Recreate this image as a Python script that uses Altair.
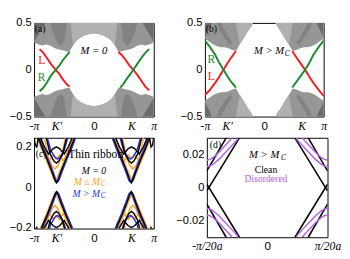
import altair as alt
import pandas as pd

SERIF = "Liberation Serif"
SANS = "Liberation Sans"

# ---------------- ticks ----------------
K_TICKS = [-3.1416, -1.97, 0.0, 1.97, 3.1416]
K_LABELS = ["-π", "K'", "0", "K", "π"]
D_TICKS = [-1.0, 0.0, 1.0]
D_LABELS = ["-π/20a", "0", "π/20a"]
AB_YTICKS = [-0.5, 0.0, 0.5]
C_YTICKS = [-0.2, 0.0, 0.2]
D_YTICKS = [-0.02, 0.0, 0.02]

# ---------------- panel (a): bulk boundary (upper half, lower half mirrored) ----------------
A_K = [-3.14, -2.9, -2.7, -2.5, -2.3, -2.1, -1.9, -1.7, -1.5, -1.3, -1.1, -0.9, -0.7, -0.5, -0.3,
       0.0, 0.3, 0.5, 0.7, 0.9, 1.1, 1.3, 1.5, 1.7, 1.9, 2.1, 2.3, 2.5, 2.7, 2.9, 3.14]
A_EDGE = [0.29, 0.27, 0.26, 0.27, 0.26, 0.235, 0.22, 0.21, 0.20, 0.19, 0.26, 0.315, 0.345, 0.365, 0.38,
          0.39, 0.38, 0.365, 0.345, 0.315, 0.26, 0.19, 0.20, 0.21, 0.22, 0.235, 0.26, 0.27, 0.26, 0.27, 0.29]
A_LIGHT_K = [-1.25, -1.1, -0.9, -0.7, -0.5, -0.3, 0.0, 0.3, 0.5, 0.7, 0.9, 1.1, 1.25]
A_LIGHT_LO = [0.55, 0.26, 0.315, 0.345, 0.365, 0.38, 0.39, 0.38, 0.365, 0.345, 0.315, 0.26, 0.55]
A_DARK_K = [-3.14, -3.0, -2.8, -2.6, -2.45]
A_DARK_LO = [0.30, 0.35, 0.42, 0.48, 0.55]
A_MID_K = [-2.35, -2.15, -1.95, -1.75, -1.55, -1.4]
A_MID_LO = [0.55, 0.40, 0.30, 0.25, 0.30, 0.55]

# edge states (a)
A_L1_K = [-2.85, -2.65, -2.45, -2.25, -2.0, -1.8, -1.6, -1.4, -1.28]
A_L1_E = [0.22, 0.18, 0.12, 0.06, 0.0, -0.05, -0.11, -0.16, -0.18]
A_R1_K = [-2.85, -2.65, -2.45, -2.25, -2.0, -1.8, -1.6, -1.4, -1.28]
A_R1_E = [-0.23, -0.19, -0.13, -0.06, 0.0, 0.05, 0.11, 0.16, 0.19]
A_L2_K = [1.28, 1.45, 1.65, 1.85, 2.07, 2.3, 2.5, 2.7, 2.9]
A_L2_E = [0.19, 0.16, 0.11, 0.05, 0.0, -0.06, -0.12, -0.18, -0.22]
A_R2_K = [1.38, 1.55, 1.75, 1.9, 2.07, 2.3, 2.5, 2.7, 2.9]
A_R2_E = [-0.19, -0.15, -0.09, -0.05, 0.0, 0.07, 0.13, 0.18, 0.22]

# ---------------- panel (b) ----------------
B_EDGE = [0.33, 0.30, 0.27, 0.25, 0.24, 0.24, 0.23, 0.21, 0.20, 0.27, 0.33, 0.40, 0.46, 0.53, 0.6,
          0.6, 0.6, 0.53, 0.46, 0.40, 0.33, 0.27, 0.20, 0.21, 0.23, 0.24, 0.24, 0.25, 0.27, 0.30, 0.33]
B_DARK_K = [-3.14, -3.0, -2.85, -2.7]
B_DARK_LO = [0.34, 0.40, 0.46, 0.55]
B_STRIPE_K = [-2.6, -2.4, -2.2, -2.0, -1.8, -1.7]
B_STRIPE_LO = [0.55, 0.43, 0.37, 0.31, 0.26, 0.30]
B_STRIPE_HI = [0.55, 0.55, 0.46, 0.39, 0.32, 0.30]
B_LIGHT_K = [-1.55, -1.3, -1.1, -0.9, -0.7, -0.5]
B_LIGHT_LO = [0.55, 0.27, 0.33, 0.40, 0.46, 0.53]

B_L1_K = [-3.14, -2.9, -2.6, -2.4, -2.16, -1.95, -1.75, -1.5]
B_L1_E = [-0.27, -0.22, -0.14, -0.08, 0.0, 0.07, 0.13, 0.20]
B_R1_E = [0.31, 0.25, 0.16, 0.08, 0.0, -0.07, -0.13, -0.19]
B_L2_K = [1.48, 1.7, 1.95, 2.16, 2.4, 2.6, 2.9, 3.14]
B_L2_E = [0.20, 0.13, 0.06, 0.0, -0.08, -0.14, -0.22, -0.28]
B_R2_E = [-0.19, -0.13, -0.06, 0.0, 0.08, 0.16, 0.25, 0.31]

# ---------------- panel (c): thin-ribbon subbands near K' (conduction) ----------------
C_BLACK = [
    ([-2.92, -2.7, -2.45, -2.2, -2.05, -1.97, -1.89, -1.74, -1.49, -1.24, -1.02],
     [0.245, 0.19, 0.135, 0.075, 0.035, 0.022, 0.035, 0.075, 0.135, 0.19, 0.245]),
    ([-2.5, -2.3, -2.1, -1.97, -1.84, -1.64, -1.44],
     [0.245, 0.165, 0.13, 0.12, 0.13, 0.165, 0.245]),
    ([-2.8, -2.6, -2.38, -2.15, -1.97, -1.79, -1.56, -1.34, -1.14],
     [0.245, 0.2, 0.165, 0.19, 0.2, 0.19, 0.165, 0.2, 0.245]),
    ([-3.14, -3.08, -3.0, -2.92], [0.245, 0.21, 0.2, 0.245]),
]
C_ORANGE = [
    ([-2.98, -2.75, -2.5, -2.25, -2.1, -2.03, -1.96, -1.8, -1.55, -1.3, -1.08],
     [0.245, 0.19, 0.135, 0.075, 0.04, 0.03, 0.04, 0.075, 0.135, 0.19, 0.245]),
    ([-2.6, -2.4, -2.2, -2.05, -1.9, -1.7, -1.5],
     [0.245, 0.15, 0.105, 0.09, 0.105, 0.15, 0.245]),
    ([-2.75, -2.55, -2.35, -2.15, -2.0, -1.8, -1.6, -1.4, -1.2],
     [0.23, 0.17, 0.13, 0.16, 0.14, 0.16, 0.13, 0.17, 0.23]),
]
C_BLUE = [
    ([-2.86, -2.64, -2.39, -2.14, -1.99, -1.91, -1.83, -1.68, -1.43, -1.18, -0.96],
     [0.245, 0.19, 0.135, 0.075, 0.035, 0.025, 0.035, 0.075, 0.135, 0.19, 0.245]),
    ([-2.45, -2.25, -2.05, -1.91, -1.77, -1.57, -1.37],
     [0.245, 0.18, 0.15, 0.14, 0.15, 0.18, 0.245]),
]

# ---------------- panel (d): zoom near zero energy (upper-left quadrant) ----------------
D_BLACK = [([-1.0, -0.68], [0.010, 0.030]), ([-1.0, -0.46], [-0.002, 0.030])]
D_PURPLE = [([-1.0, -0.95, -0.9, -0.85, -0.8, -0.7, -0.6, -0.56],
             [0.0165, 0.017, 0.018, 0.0195, 0.0213, 0.0252, 0.0291, 0.031]),
            ([-1.0, -0.95, -0.9, -0.85, -0.8, -0.7, -0.6, -0.5, -0.48],
             [0.0125, 0.013, 0.014, 0.0155, 0.017, 0.0209, 0.0248, 0.0287, 0.031])]

GRAY = "#969696"
LIGHT = "#b0b0b0"
DARK = "#6c6c6c"
MID = "#828282"
RED = "#f01e1e"
GREEN = "#1d8a2e"
ORANGE = "#ffa020"
BLUE = "#2233e8"
PURPLE = "#b463e6"


def label_expr(ticks, labels):
    expr = '""'
    for t, l in reversed(list(zip(ticks, labels))):
        expr = f'abs(datum.value - ({t})) < 0.001 ? "{l}" : ' + expr
    return expr


def make_axes(xt, xl, yt, yfmt, xdom, ydom):
    xs = alt.Scale(domain=xdom, nice=False, zero=False)
    ys = alt.Scale(domain=ydom, nice=False, zero=False)
    xa = alt.Axis(values=xt, labelExpr=label_expr(xt, xl), title=None, ticks=False, grid=False,
                  domain=False, labelFlush=False, labelOverlap=False, labelBound=False,
                  labelFont={"condition": {"test": "datum.value == 0", "value": SANS}, "value": SERIF},
                  labelFontStyle={"condition": {"test": "datum.value == 0", "value": "normal"}, "value": "italic"},
                  labelFontSize=12, labelPadding=4, labelColor="black")
    ya = alt.Axis(values=yt, format=yfmt, title=None, ticks=False, grid=False, domain=False,
                  labelFlush=False, labelOverlap=False, labelFont=SANS, labelFontSize=11.5,
                  labelPadding=3, labelColor="black")
    return dict(xs=xs, xa=xa, ys=ys, ya=ya)


def area_layer(rows, color, P):
    return alt.Chart(pd.DataFrame(rows)).mark_area(color=color, clip=True, opacity=1).encode(
        x=alt.X("k:Q", scale=P["xs"], axis=P["xa"]),
        y=alt.Y("lo:Q", scale=P["ys"], axis=P["ya"]),
        y2="hi:Q", detail="g:N")


def line_layer(rows, P, width=2.0):
    return alt.Chart(pd.DataFrame(rows)).mark_line(clip=True, strokeWidth=width).encode(
        x=alt.X("k:Q", scale=P["xs"], axis=P["xa"]),
        y=alt.Y("e:Q", scale=P["ys"], axis=P["ya"]),
        color=alt.Color("c:N", scale=None), detail="id:N", order="i:Q")


def text_layer(rows, P, **kw):
    return alt.Chart(pd.DataFrame(rows)).mark_text(**kw).encode(
        x=alt.X("k:Q", scale=P["xs"], axis=P["xa"]),
        y=alt.Y("e:Q", scale=P["ys"], axis=P["ya"]),
        text="t:N", color=alt.Color("c:N", scale=None))


def sym_area(ks, los, his, tag, mirror_k=False):
    """upper band (lo..hi) plus its energy mirror; optional k mirror"""
    rows = []
    signs = (1, -1) if mirror_k else (1,)
    for sk in signs:
        for k, lo, hi in zip(ks, los, his):
            rows.append({"k": sk * k, "lo": lo, "hi": hi, "g": f"{tag}u{sk}"})
            rows.append({"k": sk * k, "lo": -hi, "hi": -lo, "g": f"{tag}d{sk}"})
    return rows


def line_rows(ks, es, color, gid):
    return [{"k": k, "e": e, "c": color, "id": gid, "i": i} for i, (k, e) in enumerate(zip(ks, es))]


def band_rows(sets, color, tag):
    rows = []
    for n, (ks, es) in enumerate(sets):
        for sk in (1, -1):
            for se in (1, -1):
                rows += line_rows([sk * k for k in ks], [se * e for e in es], color, f"{tag}{n}{sk}{se}")
    return rows


def txt(k, e, t, c="black"):
    return [{"k": k, "e": e, "t": t, "c": c}]


# ============ panel (a) ============
PA = make_axes(K_TICKS, K_LABELS, AB_YTICKS, ".1~f", [-3.1416, 3.1416], [-0.5, 0.5])
top_a = [0.6] * len(A_K)
a_layers = [
    area_layer(sym_area(A_K, A_EDGE, top_a, "base"), GRAY, PA),
    area_layer(sym_area(A_MID_K, A_MID_LO, [0.6] * len(A_MID_K), "mid", True), MID, PA),
    area_layer(sym_area(A_LIGHT_K, A_LIGHT_LO, [0.6] * len(A_LIGHT_K), "lt"), LIGHT, PA),
    area_layer(sym_area(A_DARK_K, A_DARK_LO, [0.6] * len(A_DARK_K), "dk", True), DARK, PA),
    line_layer(line_rows(A_L1_K, A_L1_E, RED, "l1") + line_rows(A_R1_K, A_R1_E, GREEN, "r1")
               + line_rows(A_L2_K, A_L2_E, RED, "l2") + line_rows(A_R2_K, A_R2_E, GREEN, "r2"), PA),
    text_layer(txt(-3.1, 0.43, "(a)"), PA, font=SERIF, fontSize=10, align="left"),
    text_layer(txt(0.0, 0.2, "M = 0"), PA, font=SERIF, fontSize=11, fontStyle="italic"),
    text_layer(txt(-2.74, 0.10, "L", RED) + txt(-2.74, -0.075, "R", GREEN), PA,
               font=SERIF, fontSize=12),
]
pa = alt.layer(*a_layers).properties(width=124, height=97)

# ============ panel (b) ============
PB = make_axes(K_TICKS, K_LABELS, AB_YTICKS, ".1~f", [-3.1416, 3.1416], [-0.5, 0.5])
b_layers = [
    area_layer(sym_area(A_K, B_EDGE, top_a, "base"), GRAY, PB),
    area_layer(sym_area(B_LIGHT_K, B_LIGHT_LO, [0.6] * len(B_LIGHT_K), "lt", True), LIGHT, PB),
    area_layer(sym_area(B_STRIPE_K, B_STRIPE_LO, B_STRIPE_HI, "st", True), MID, PB),
    area_layer(sym_area(B_DARK_K, B_DARK_LO, [0.6] * len(B_DARK_K), "dk", True), DARK, PB),
    line_layer(line_rows(B_L1_K, B_L1_E, RED, "l1") + line_rows(B_L1_K, B_R1_E, GREEN, "r1")
               + line_rows(B_L2_K, B_L2_E, RED, "l2") + line_rows(B_L2_K, B_R2_E, GREEN, "r2"), PB),
    text_layer(txt(-3.1, 0.43, "(b)"), PB, font=SERIF, fontSize=10, align="left"),
    text_layer(txt(1.05, 0.2, "M > M"), PB, font=SERIF, fontSize=11, fontStyle="italic", align="right"),
    text_layer(txt(1.08, 0.17, "C"), PB, font=SERIF, fontSize=8, fontStyle="italic", align="left"),
    text_layer(txt(-2.8, 0.11, "R", GREEN) + txt(-2.8, -0.065, "L", RED), PB,
               font=SERIF, fontSize=12),
]
pb = alt.layer(*b_layers).properties(width=123, height=97)

# ============ panel (c) ============
PC = make_axes(K_TICKS, K_LABELS, C_YTICKS, ".1~f", [-3.1416, 3.1416], [-0.205, 0.245])
c_layers = [
    line_layer(band_rows(C_ORANGE, ORANGE, "o"), PC, 1.5),
    line_layer(band_rows(C_BLUE, BLUE, "b"), PC, 1.5),
    line_layer(band_rows(C_BLACK, "black", "k"), PC, 1.5),
    text_layer(txt(-3.05, 0.165, "(c)"), PC, font=SERIF, fontSize=10, align="left"),
    text_layer(txt(-1.35, 0.165, "Thin ribbon"), PC, font=SERIF, fontSize=12, align="left"),
    text_layer(txt(0.0, 0.082, "M = 0"), PC, font=SERIF, fontSize=10, fontStyle="italic"),
    text_layer(txt(0.32, 0.025, "M ≤ M", ORANGE) + txt(0.32, -0.033, "M > M", BLUE), PC,
               font=SERIF, fontSize=10, fontStyle="italic", align="right"),
    text_layer(txt(0.36, 0.014, "C", ORANGE) + txt(0.36, -0.044, "C", BLUE), PC,
               font=SERIF, fontSize=7.5, fontStyle="italic", align="left"),
]
pc = alt.layer(*c_layers).properties(width=124, height=94)

# ============ panel (d) ============
PD = make_axes(D_TICKS, D_LABELS, D_YTICKS, ".2~f", [-1.0, 1.0], [-0.03, 0.03])
d_rows = band_rows(D_BLACK, "black", "k")
p_rows = band_rows(D_PURPLE, PURPLE, "p")
d_layers = [
    line_layer(d_rows, PD, 1.6),
    line_layer(p_rows, PD, 1.5),
    text_layer(txt(-0.95, 0.0255, "(d)"), PD, font=SERIF, fontSize=10, align="left"),
    text_layer(txt(0.2, 0.0195, "M > M"), PD, font=SERIF, fontSize=11, fontStyle="italic", align="right"),
    text_layer(txt(0.23, 0.0175, "C"), PD, font=SERIF, fontSize=8, fontStyle="italic", align="left"),
    text_layer(txt(-0.02, 0.0108, "Clean"), PD, font=SERIF, fontSize=10),
    text_layer(txt(-0.02, 0.005, "Disordered", PURPLE), PD, font=SERIF, fontSize=10),
]
pd_ = alt.layer(*d_layers).properties(width=125, height=103)

top = alt.hconcat(pa, pb, spacing=22)
bottom = alt.hconcat(pc, pd_, spacing=18)
chart = alt.vconcat(top, bottom, spacing=5).properties(
    padding={"left": 0, "top": 4, "right": 0, "bottom": 0}, background="white"
).configure_view(stroke="black", strokeWidth=1)

chart.save("out.html", embed_options={"renderer": "svg", "actions": False})
